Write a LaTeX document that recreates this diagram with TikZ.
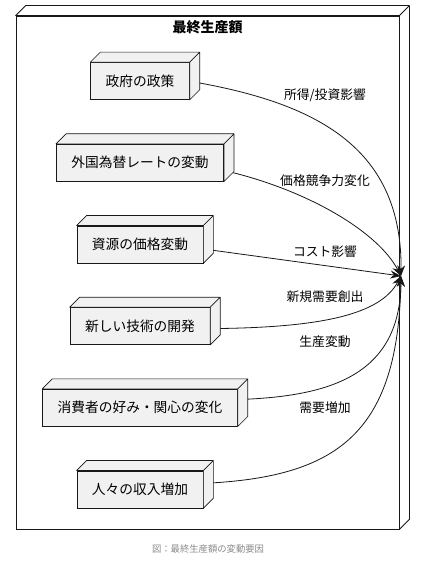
\documentclass[tikz,border=0pt]{standalone}
\usepackage{fontspec}
\setmainfont{Noto Sans CJK JP}
\usepackage{tikz}
\usetikzlibrary{positioning}
\usetikzlibrary{arrows.meta}
\tikzset{>={Stealth[length=8pt,width=6pt]}}
\definecolor{boxfill}{HTML}{F1F1F1}
\definecolor{linec}{HTML}{181818}
\definecolor{capgray}{HTML}{8C8C8C}

\begin{document}
\begin{tikzpicture}[x=0.75pt, y=-0.75pt, node distance=33pt,
    factor/.style={draw=linec, fill=boxfill, line width=0.5pt,
      inner xsep=11.25pt, minimum height=27.75pt,
      font=\fontsize{10.3}{12}\selectfont},
    face/.style={draw=linec, fill=boxfill, line width=0.5pt, line join=round},
    effect/.style={font=\fontsize{9.6}{11}\selectfont},
    link/.style={->, draw=linec, line width=0.6pt}]

    \fill [white] (0,0) rectangle (425,563);
    \useasboundingbox (0,0) rectangle (425,563);

    % outer box
    \node [draw=linec, fill=white, line width=0.6pt, inner sep=0pt,
    minimum width=287.25pt, minimum height=384.75pt] (total) at (207.5,272.5) {};
    \draw [face, fill=white, line width=0.6pt] (total.north west) -- ++(10,-10)
      -| ([shift={(10,-10)}]total.south east) -- (total.south east)
      -- (total.north east) -- cycle
      (total.north east) -- ++(10,-10);
    \node [font=\bfseries\fontsize{10.5}{12}\selectfont] (title) at (207.5,27.5) {最終生産額};

    % factors
    \node [factor] (gov) at (140,81) {政府の政策};
    \node [factor, below=of gov] (fx) {外国為替レートの変動};
    \node [factor, below=of fx] (res) {資源の価格変動};
    \node [factor, below=of res] (tech) {新しい技術の開発};
    \node [factor, below=of tech] (cons) {消費者の好み・関心の変化};
    \node [factor, below=of cons] (inc) {人々の収入増加};

    \foreach \n in {gov,fx,res,tech,cons,inc}
      \draw [face] (\n.north west) -- ++(10,-10)
        -| ([shift={(10,-10)}]\n.south east) -- (\n.south east)
        -- (\n.north east) -- cycle
        (\n.north east) -- ++(10,-10);

    \coordinate (target) at (401,276);

    \draw [link] ([shift={(10,2)}]gov.east) .. controls (320,105) and (402,150) .. (target);
    \draw [link] ([shift={(9,10)}]fx.east) .. controls (310,192) and (378,232) .. (target);
    \draw [link] ([shift={(10,6)}]res.east) -- (target);
    \draw [link] ([shift={(10,2.5)}]tech.east) .. controls (320,327) and (380,315) .. (target);
    \draw [link] ([shift={(10,-8.5)}]cons.east) .. controls (330,395) and (400,375) .. (target);
    \draw [link] ([shift={(10,-6.5)}]inc.east) .. controls (340,475) and (398,430) .. (target);

    \node [effect] (income) at (325,95) {所得/投資影響};
    \node [effect] (compete) at (325,181) {価格競争力変化};
    \node [effect] (cost) at (325,252) {コスト影響};
    \node [effect] (demand) at (325,297) {新規需要創出};
    \node [effect] (output) at (325,342) {生産変動};
    \node [effect] (grow) at (325,408) {需要増加};

    \node [font=\fontsize{7}{8}\selectfont, text=capgray] (caption) at (208,549) {図：最終生産額の変動要因};
  \end{tikzpicture}
\end{document}
